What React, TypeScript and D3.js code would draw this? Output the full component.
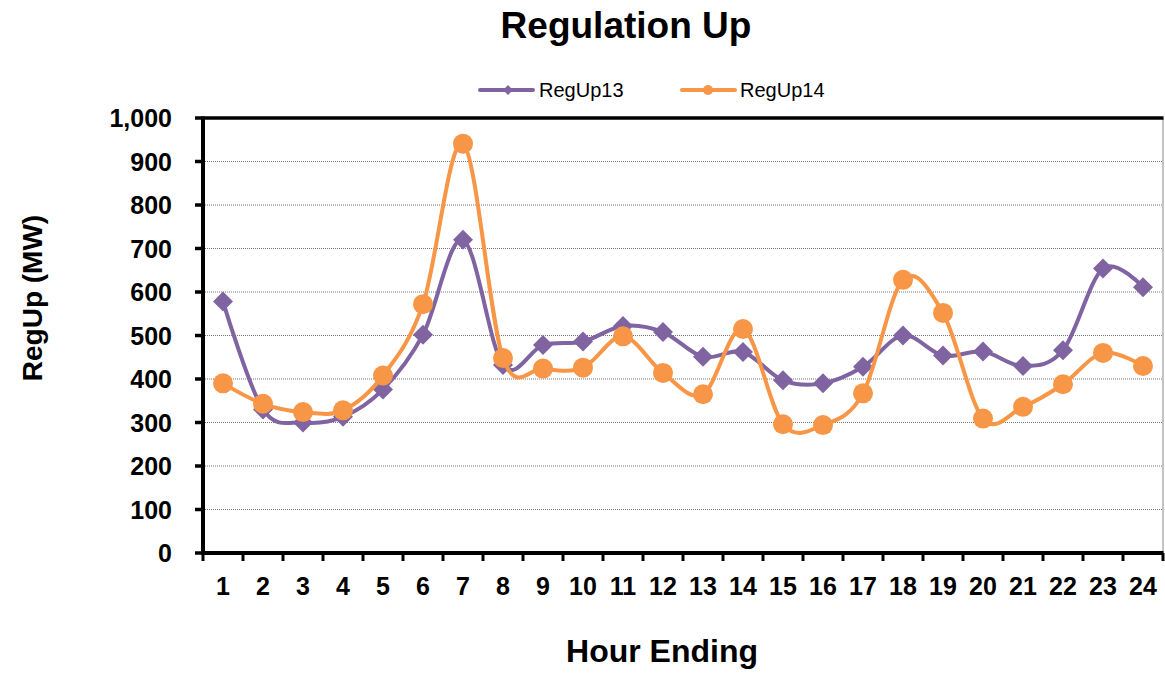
import React from "react";
import * as d3 from "d3";

const hours = Array.from({ length: 24 }, (_, i) => String(i + 1));
const regUp13 = [578, 330, 300, 313, 376, 502, 720, 432, 478, 486, 522, 508, 451, 462, 397, 390, 428, 500, 454, 463, 430, 466, 654, 611];
const regUp14 = [390, 343, 324, 328, 408, 572, 941, 448, 424, 426, 498, 414, 365, 515, 296, 294, 367, 628, 552, 309, 336, 388, 460, 430];
const yTicks = [0, 100, 200, 300, 400, 500, 600, 700, 800, 900, 1000];
const seriesNames = ["RegUp13", "RegUp14"];

const W = 1165, H = 674;
const M = { left: 203, right: 1163, top: 118, bottom: 553 };
const PURPLE = "#8064A2";
const ORANGE = "#F79646";
const FONT = "'Liberation Sans', Arial, sans-serif";

export default function App() {
  const x = d3.scaleBand().domain(hours).range([M.left, M.right]);
  const cx = (h: string) => (x(h) as number) + x.bandwidth() / 2;
  const y = d3.scaleLinear().domain([0, 1000]).range([M.bottom, M.top]);
  const line = d3
    .line<number>()
    .x((_, i) => cx(hours[i]))
    .y((d) => y(d))
    .curve(d3.curveCardinal.tension(0));
  const fmt = d3.format(",");
  const diamond = (px: number, py: number, r: number) =>
    `M${px},${py - r}L${px + r},${py}L${px},${py + r}L${px - r},${py}Z`;

  return (
    <svg width={W} height={H} style={{ position: "absolute", left: 0, top: 0, background: "#fff" }} fontFamily={FONT}>
      <text x={626} y={38} textAnchor="middle" fontSize={37} fontWeight="bold">Regulation Up</text>

      {/* legend */}
      <g>
        <line x1={480} x2={533} y1={90} y2={90} stroke={PURPLE} strokeWidth={4} strokeLinecap="round" />
        <path d={diamond(508, 90, 5)} fill={PURPLE} />
        <text x={539} y={97} fontSize={20}>{seriesNames[0]}</text>
        <line x1={682} x2={735} y1={90} y2={90} stroke={ORANGE} strokeWidth={4} strokeLinecap="round" />
        <circle cx={708} cy={90} r={5} fill={ORANGE} />
        <text x={740} y={97} fontSize={20}>{seriesNames[1]}</text>
      </g>

      {/* gridlines */}
      {yTicks.filter((t) => t > 0 && t < 1000).map((t) => (
        <line key={t} x1={M.left} x2={M.right} y1={y(t)} y2={y(t)} stroke="#777" strokeWidth={1} strokeDasharray="1,1" />
      ))}
      {/* right border */}
      <line x1={M.right} x2={M.right} y1={M.top} y2={M.bottom} stroke="#888" strokeWidth={1} />
      {/* top border */}
      <line x1={M.left} x2={M.right + 0.5} y1={M.top} y2={M.top} stroke="#000" strokeWidth={3.5} />

      {/* y axis */}
      <line x1={M.left} x2={M.left} y1={M.top - 1.5} y2={M.bottom + 2} stroke="#000" strokeWidth={4} />
      {yTicks.map((t) => (
        <g key={t}>
          <line x1={M.left - 8} x2={M.left} y1={y(t)} y2={y(t)} stroke="#000" strokeWidth={3.5} />
          <text x={172} y={y(t) + 9} textAnchor="end" fontSize={25} fontWeight="bold">{fmt(t)}</text>
        </g>
      ))}
      {/* x axis */}
      <line x1={M.left - 2} x2={M.right + 0.5} y1={M.bottom} y2={M.bottom} stroke="#000" strokeWidth={4} />
      {hours.map((h) => (
        <g key={h}>
          <line x1={x(h) as number} x2={x(h) as number} y1={M.bottom} y2={M.bottom + 8} stroke="#000" strokeWidth={3} />
          <text x={cx(h)} y={595} textAnchor="middle" fontSize={25} fontWeight="bold">{h}</text>
        </g>
      ))}
      <line x1={M.right} x2={M.right} y1={M.bottom} y2={M.bottom + 8} stroke="#000" strokeWidth={3} />

      <text x={662} y={662} textAnchor="middle" fontSize={32} fontWeight="bold">Hour Ending</text>
      <text transform={`translate(42,298) rotate(-90)`} textAnchor="middle" fontSize={28} fontWeight="bold">RegUp (MW)</text>

      {/* series */}
      <path d={line(regUp13) || ""} fill="none" stroke={PURPLE} strokeWidth={4} />
      {regUp13.map((v, i) => (
        <path key={i} d={diamond(cx(hours[i]), y(v), 10)} fill={PURPLE} />
      ))}
      <path d={line(regUp14) || ""} fill="none" stroke={ORANGE} strokeWidth={4} />
      {regUp14.map((v, i) => (
        <circle key={i} cx={cx(hours[i])} cy={y(v)} r={10} fill={ORANGE} />
      ))}
    </svg>
  );
}
